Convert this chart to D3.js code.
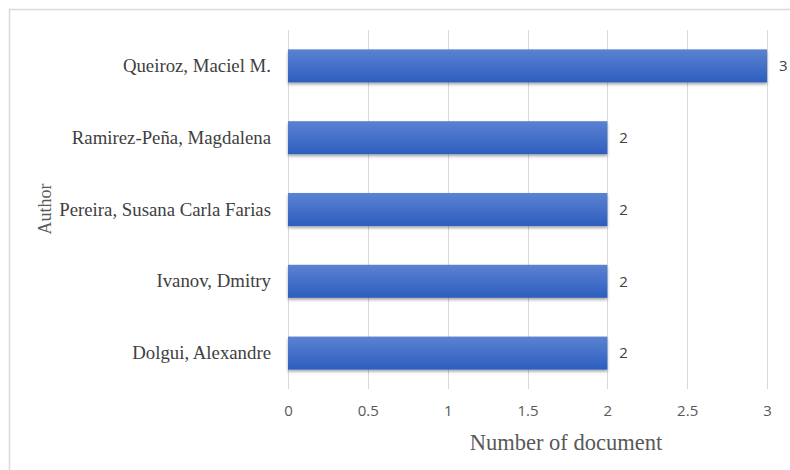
<!DOCTYPE html>
<html>
<head>
<meta charset="utf-8">
<script src="https://cdn.jsdelivr.net/npm/d3@7"></script>
<style>
  html, body { margin: 0; padding: 0; background: #fff; }
  svg { display: block; }
</style>
</head>
<body>
<div id="chart"></div>
<script>
// Documents per author
const authors = [
  "Queiroz, Maciel M.",
  "Ramirez-Peña, Magdalena",
  "Pereira, Susana Carla Farias",
  "Ivanov, Dmitry",
  "Dolgui, Alexandre"
];
const documents = [3, 2, 2, 2, 2];
const xTicks = [0, 0.5, 1, 1.5, 2, 2.5, 3];

const W = 790, H = 470;
const margin = { left: 288, right: 23, top: 30, bottom: 81 };

const svg = d3.select("#chart").append("svg")
  .attr("width", W).attr("height", H);

const defs = svg.append("defs");
const grad = defs.append("linearGradient")
  .attr("id", "barFill").attr("x1", 0).attr("y1", 0).attr("x2", 0).attr("y2", 1);
grad.append("stop").attr("offset", "0%").attr("stop-color", "#5b82d2");
grad.append("stop").attr("offset", "100%").attr("stop-color", "#2d5ebf");

const shadow = defs.append("filter").attr("id", "barShadow")
  .attr("x", "-5%").attr("y", "-20%").attr("width", "110%").attr("height", "150%");
shadow.append("feDropShadow")
  .attr("dx", 0).attr("dy", 2).attr("stdDeviation", 1.6)
  .attr("flood-color", "#000").attr("flood-opacity", 0.35);

// Chart frame
svg.append("rect")
  .attr("x", 9.5).attr("y", 9.5).attr("width", 800).attr("height", 500)
  .attr("fill", "none").attr("stroke", "#d9d9d9").attr("stroke-width", 1.5);

const x = d3.scaleLinear().domain([0, 3]).range([margin.left, W - margin.right]);
const y = d3.scaleBand().domain(authors)
  .range([margin.top, H - margin.bottom]).paddingInner(0.54).paddingOuter(0.27);

// Vertical gridlines
svg.append("g").selectAll("line").data(xTicks).join("line")
  .attr("x1", d => Math.round(x(d)) + 0.5).attr("x2", d => Math.round(x(d)) + 0.5)
  .attr("y1", margin.top).attr("y2", H - margin.bottom)
  .attr("stroke", "#d9d9d9").attr("stroke-width", 1);

// X axis tick labels
const xAxis = d3.axisBottom(x).tickValues(xTicks).tickSize(0).tickPadding(0)
  .tickFormat(d3.format("~g"));
const gx = svg.append("g")
  .attr("transform", `translate(0,${H - margin.bottom + 16})`)
  .call(xAxis);
gx.select(".domain").remove();
gx.selectAll("text")
  .attr("font-family", "'Open Sans', 'Liberation Sans', sans-serif")
  .attr("font-size", 15).attr("fill", "#595959").attr("dy", "0.71em");

// Y axis category labels
const yAxis = d3.axisLeft(y).tickSize(0).tickPadding(17);
const gy = svg.append("g").attr("transform", `translate(${margin.left},0)`).call(yAxis);
gy.select(".domain").remove();
gy.selectAll("text")
  .attr("font-family", "'Liberation Serif', 'Times New Roman', serif")
  .attr("font-size", 18.8).attr("fill", "#404040");

// Bars
svg.append("g").selectAll("rect").data(authors).join("rect")
  .attr("x", x(0))
  .attr("y", d => y(d))
  .attr("width", (d, i) => x(documents[i]) - x(0))
  .attr("height", y.bandwidth())
  .attr("fill", "url(#barFill)")
  .attr("filter", "url(#barShadow)");

// Value labels
svg.append("g").selectAll("text").data(authors).join("text")
  .attr("x", (d, i) => x(documents[i]) + 12)
  .attr("y", d => y(d) + y.bandwidth() / 2)
  .attr("dy", "0.35em")
  .attr("font-family", "'Open Sans', 'Liberation Sans', sans-serif")
  .attr("font-size", 15).attr("fill", "#404040")
  .text((d, i) => documents[i]);

// Axis titles
svg.append("text")
  .attr("x", 566).attr("y", 450)
  .attr("text-anchor", "middle")
  .attr("font-family", "'Liberation Serif', 'Times New Roman', serif")
  .attr("font-size", 22.5).attr("fill", "#595959")
  .text("Number of document");

svg.append("text")
  .attr("transform", "translate(51,209) rotate(-90)")
  .attr("text-anchor", "middle")
  .attr("font-family", "'Liberation Serif', 'Times New Roman', serif")
  .attr("font-size", 18).attr("fill", "#595959")
  .text("Author");
</script>
</body>
</html>
